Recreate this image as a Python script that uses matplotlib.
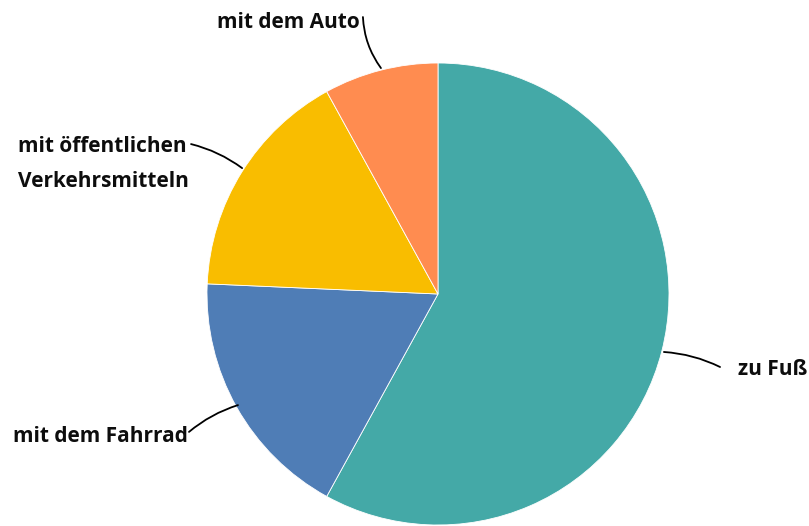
#!/usr/bin/env python3
"""Pie chart: Verkehrsmittel auf dem Weg (Anteile)."""

import matplotlib

matplotlib.use("Agg")
import matplotlib.pyplot as plt

LABELS = ["zu Fuß", "mit dem Fahrrad", "mit öffentlichen\nVerkehrsmitteln", "mit dem Auto"]
VALUES = [58, 17.7, 16.3, 8]
COLORS = ["#44a9a7", "#4f7db6", "#f9bd00", "#ff8c50"]

W, H = 809, 526
CX, CY, R = 438, 294, 231  # pie centre and radius in pixels


def main() -> None:
    plt.rcParams["font.family"] = ["Open Sans", "DejaVu Sans"]
    fig = plt.figure(figsize=(W / 100, H / 100), dpi=100)
    ax = fig.add_axes([0, 0, 1, 1])

    ax.pie(
        VALUES,
        colors=COLORS,
        startangle=90,
        counterclock=False,
        radius=1.0,
        wedgeprops={"edgecolor": "white", "linewidth": 0.6},
    )
    ax.set_xlim(-CX / R, (W - CX) / R)
    ax.set_ylim(-(H - CY) / R, CY / R)
    ax.set_aspect("equal")
    ax.axis("off")

    # label placement: (line start, line end, text anchor, ha, curvature)
    spec = [
        ((0.978, -0.251), (1.221, -0.316), (1.299, -0.329), "left", -0.1),
        ((-0.866, -0.481), (-1.078, -0.597), (-1.084, -0.619), "right", 0.1),
        ((-0.848, 0.545), (-1.069, 0.649), (-1.818, 0.563), "left", 0.1),
        ((-0.247, 0.978), (-0.325, 1.199), (-0.338, 1.177), "right", -0.15),
    ]
    for label, (p0, p1, pt, ha, rad) in zip(LABELS, spec):
        ax.annotate(
            "",
            xy=p1,
            xytext=p0,
            arrowprops=dict(arrowstyle="-", color="black", lw=1.3,
                            shrinkA=0, shrinkB=0,
                            connectionstyle=f"arc3,rad={rad}"),
        )
        ax.text(pt[0], pt[1], label, ha=ha, va="center", fontsize=15,
                fontweight="bold", color="#0d0d0d", linespacing=1.85)

    fig.savefig("out.png", dpi=100)


if __name__ == "__main__":
    main()
